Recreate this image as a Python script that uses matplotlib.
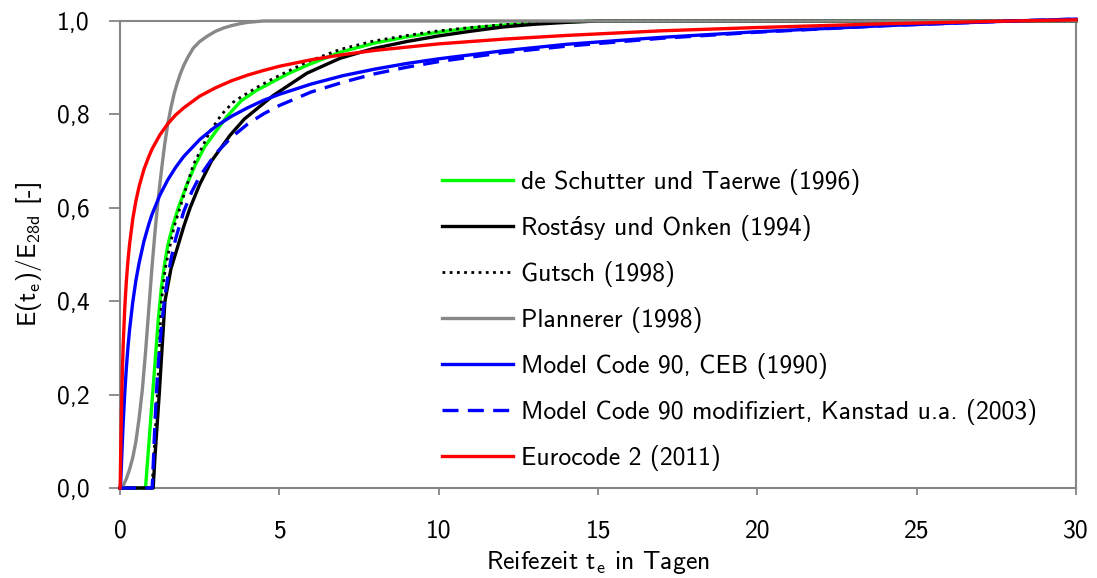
import matplotlib
matplotlib.use("Agg")
import matplotlib.pyplot as plt

plt.rcParams['font.family'] = ['cmss10', 'Noto Sans', 'DejaVu Sans']
plt.rcParams['mathtext.fontset'] = 'custom'
plt.rcParams['mathtext.rm'] = 'cmss10'
plt.rcParams['mathtext.it'] = 'cmss10'
plt.rcParams['axes.unicode_minus'] = False

# --- values ---
t_green = [0, 0.80, 0.9, 1.0, 1.1, 1.2, 1.3, 1.4, 1.5, 1.65, 1.83, 2.1, 2.35, 2.65, 3.0,
           3.35, 3.8, 4.3, 4.8, 5.3, 5.9, 6.9, 8, 9, 10, 11, 12, 13, 14, 15, 30]
e_green = [0, 0, 0.09, 0.18, 0.27, 0.36, 0.43, 0.48, 0.52, 0.56, 0.60, 0.65, 0.69, 0.73, 0.763,
           0.795, 0.829, 0.852, 0.870, 0.888, 0.906, 0.933, 0.953, 0.966, 0.976, 0.985, 0.991,
           0.995, 0.998, 1.0, 1.0]

t_black = [0, 1.04, 1.1, 1.23, 1.41, 1.6, 1.78, 2.0, 2.2, 2.5, 2.87, 3.45, 3.9, 4.8, 5.86,
           6.9, 7.95, 9, 10, 11, 12, 13, 14, 15, 30]
e_black = [0, 0, 0.07, 0.2, 0.4, 0.47, 0.51, 0.56, 0.60, 0.65, 0.70, 0.755, 0.79, 0.840, 0.888,
           0.920, 0.941, 0.956, 0.968, 0.978, 0.987, 0.993, 0.997, 1.0, 1.0]

t_dot = [0, 1.0, 1.05, 1.17, 1.30, 1.42, 1.54, 1.7, 1.88, 2.3, 2.82, 3.19, 3.55, 3.77, 4.3,
         4.81, 5.86, 6.9, 7.95, 9, 10, 11, 12, 13, 14, 15, 30]
e_dot = [0, 0, 0.05, 0.2, 0.4, 0.47, 0.51, 0.56, 0.60, 0.692, 0.763, 0.80, 0.826, 0.836, 0.858,
         0.877, 0.912, 0.939, 0.957, 0.969, 0.979, 0.986, 0.992, 0.996, 0.999, 1.0, 1.0]

t_gray = [0, 0.1, 0.2, 0.3, 0.4, 0.5, 0.6, 0.7, 0.8, 0.9, 1.0, 1.1, 1.2, 1.3, 1.4, 1.5, 1.6,
          1.7, 1.8, 1.9, 2.0, 2.15, 2.3, 2.5, 2.75, 3.0, 3.25, 3.5, 3.75, 4.0, 4.5, 30]
e_gray = [0, 0.005, 0.02, 0.04, 0.065, 0.10, 0.15, 0.21, 0.29, 0.38, 0.47, 0.55, 0.62, 0.68,
          0.735, 0.78, 0.815, 0.845, 0.868, 0.888, 0.905, 0.925, 0.942, 0.956, 0.968, 0.978,
          0.985, 0.99, 0.994, 0.997, 1.0, 1.0]

t_mc = [0, 0.01, 0.02, 0.03, 0.05, 0.07, 0.1, 0.15, 0.2, 0.25, 0.3, 0.4, 0.5, 0.6, 0.75, 0.9,
        1, 1.25, 1.5, 1.75, 2, 2.5, 3, 3.5, 4, 4.5, 5, 6, 7, 8, 9, 10, 12, 14, 17, 20, 24,
        28, 30]
e_mc = [0, 0.002, 0.011, 0.025, 0.059, 0.093, 0.140, 0.205, 0.258, 0.302, 0.339, 0.398, 0.445,
        0.482, 0.528, 0.564, 0.585, 0.627, 0.660, 0.687, 0.710, 0.746, 0.774, 0.796, 0.814,
        0.830, 0.843, 0.865, 0.883, 0.897, 0.909, 0.919, 0.936, 0.950, 0.965, 0.977, 0.990,
        1.0, 1.004]

t_mcmod = [0, 1.0, 1.01, 1.02, 1.03, 1.05, 1.07, 1.1, 1.15, 1.2, 1.3, 1.4, 1.5, 1.6, 1.75, 2,
           2.25, 2.5, 3, 3.5, 4, 4.5, 5, 6, 7, 8, 9, 10, 12, 14, 17, 20, 24, 28, 30]
e_mcmod = [0, 0, 0.002, 0.012, 0.027, 0.062, 0.097, 0.145, 0.212, 0.265, 0.346, 0.406, 0.452,
           0.490, 0.535, 0.592, 0.634, 0.667, 0.716, 0.751, 0.779, 0.801, 0.819, 0.848, 0.869,
           0.887, 0.901, 0.913, 0.932, 0.946, 0.963, 0.976, 0.990, 1.0, 1.004]

t_ec2 = [0, 0.005, 0.01, 0.02, 0.03, 0.05, 0.07, 0.1, 0.15, 0.2, 0.25, 0.3, 0.4, 0.5, 0.6,
         0.75, 0.9, 1, 1.25, 1.5, 1.75, 2, 2.5, 3, 3.5, 4, 4.5, 5, 6, 7, 8, 9, 10, 12, 14,
         17, 20, 24, 28, 30]
e_ec2 = [0, 0.004, 0.020, 0.065, 0.109, 0.183, 0.241, 0.307, 0.387, 0.444, 0.487, 0.522,
         0.576, 0.615, 0.646, 0.682, 0.709, 0.725, 0.756, 0.780, 0.799, 0.814, 0.839, 0.857,
         0.872, 0.884, 0.894, 0.903, 0.917, 0.928, 0.937, 0.944, 0.951, 0.961, 0.969, 0.979,
         0.986, 0.994, 1.0, 1.0025]

labels = ["de Schutter und Taerwe (1996)", "Rostásy und Onken (1994)", "Gutsch (1998)",
          "Plannerer (1998)", "Model Code 90, CEB (1990)",
          "Model Code 90 modifiziert, Kanstad u.a. (2003)", "Eurocode 2 (2011)"]

x_ticks = [0, 5, 10, 15, 20, 25, 30]
y_ticks = [0.0, 0.2, 0.4, 0.6, 0.8, 1.0]
y_ticklabels = ["0,0", "0,2", "0,4", "0,6", "0,8", "1,0"]

fs = 18.5

fig = plt.figure(figsize=(10.97, 5.78), dpi=100)
ax = fig.add_axes([0.1094, 0.1557, 0.8715, 0.808])

lw = 2.4
ax.plot(t_green, e_green, color="#00ff00", lw=lw, label=labels[0], zorder=3, clip_on=False)
ax.plot(t_black, e_black, color="black", lw=lw, label=labels[1], zorder=3, clip_on=False)
ax.plot(t_dot, e_dot, color="black", lw=2.0, ls=(0, (1, 1.6)), label=labels[2], zorder=3,
        clip_on=False)
ax.plot(t_gray, e_gray, color="#888888", lw=lw, label=labels[3], zorder=3, clip_on=False)
ax.plot(t_mc, e_mc, color="#0000ff", lw=lw, label=labels[4], zorder=3, clip_on=False)
ax.plot(t_mcmod, e_mcmod, color="#0000ff", lw=lw, ls=(0, (4.8, 2.8)), label=labels[5],
        zorder=3, clip_on=False)
ax.plot(t_ec2, e_ec2, color="#ff0000", lw=lw, label=labels[6], zorder=3, clip_on=False)

ax.set_xlim(0, 30)
ax.set_ylim(0, 1.0)
ax.set_xticks(x_ticks)
ax.set_yticks(y_ticks)
ax.set_yticklabels(y_ticklabels)

for s in ax.spines.values():
    s.set_color("#868686")
    s.set_linewidth(1.5)
ax.tick_params(axis="both", direction="out", width=1.3, color="#868686", labelsize=fs)
ax.tick_params(axis="x", length=5, pad=18)
ax.tick_params(axis="y", length=8, pad=14)
ax.tick_params(top=False, right=False)

ax.set_xlabel(r"Reifezeit t$_\mathrm{e}$ in Tagen", fontsize=fs, labelpad=4)
ax.set_ylabel(r"E(t$_\mathrm{e}$)/E$_\mathrm{28d}$ [-]", fontsize=fs, labelpad=9)

ax.legend(loc="upper left", bbox_to_anchor=(0.337, 0.683), frameon=False, fontsize=fs,
          handlelength=2.75, handletextpad=0.3, labelspacing=0.78, borderaxespad=0,
          borderpad=0)

fig.savefig("out.png", dpi=100)
